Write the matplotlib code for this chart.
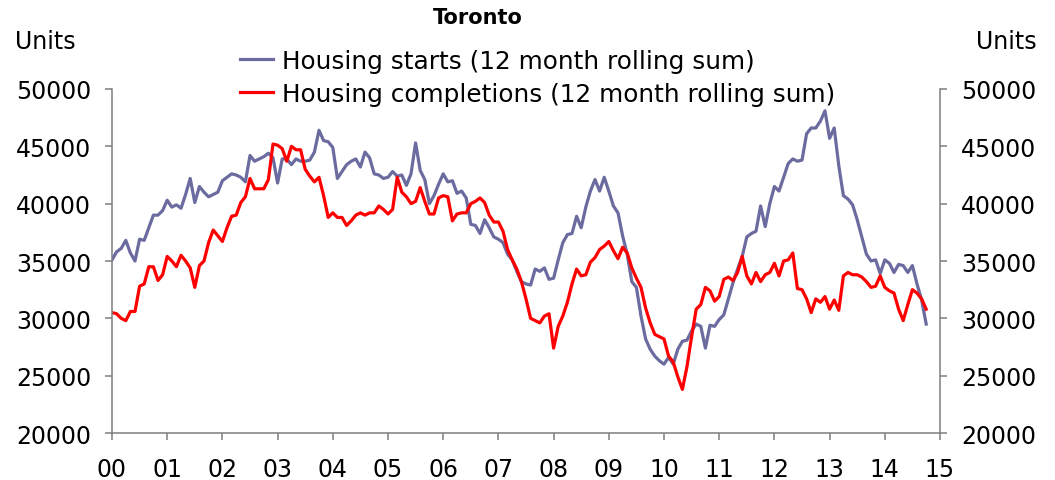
import matplotlib
matplotlib.use("Agg")
import matplotlib.pyplot as plt
import numpy as np

# ---- data (12-month rolling sums, monthly, Jan 2000 - Oct 2014) ----
starts = [
    35100, 35800, 36100, 36800, 35700, 35000, 36900, 36800, 37900, 39000,
    39000, 39400, 40300, 39700, 39900, 39600, 40800, 42200, 40100, 41500,
    41000, 40600, 40800, 41000, 42000, 42300, 42600, 42500, 42300, 41900,
    44200, 43700, 43900, 44100, 44400, 44000, 41800, 43900, 43900, 43400,
    43900, 43700, 43700, 43800, 44500, 46400, 45500, 45400, 44900, 42200,
    42800, 43400, 43700, 43900, 43200, 44500, 44000, 42600, 42500, 42200,
    42300, 42800, 42400, 42500, 41600, 42600, 45300, 42900, 42100, 40000,
    40700, 41700, 42600, 41900, 42000, 40900, 41100, 40500, 38200, 38100,
    37400, 38600, 37900, 37100, 36900, 36600, 35600, 35100, 34100, 33200,
    33000, 32900, 34300, 34100, 34400, 33400, 33500, 35100, 36600, 37300,
    37400, 38900, 37900, 39700, 41100, 42100, 41100, 42300, 41100, 39800,
    39200, 37200, 35600, 33200, 32700, 30200, 28200, 27300, 26700, 26300,
    26000, 26600, 26000, 27300, 28000, 28100, 28900, 29500, 29300, 27400,
    29400, 29300, 29900, 30300, 31700, 33100, 34300, 35400, 37100, 37400,
    37600, 39800, 38000, 40000, 41500, 41100, 42300, 43500, 43900, 43700,
    43800, 46100, 46600, 46600, 47200, 48100, 45700, 46600, 43300, 40700,
    40400, 39900, 38600, 37100, 35600, 35000, 35100, 33900, 35100, 34800,
    34000, 34700, 34600, 34000, 34600, 33000, 31600, 29500,
]
completions = [
    30500, 30400, 30000, 29800, 30600, 30600, 32800, 33000, 34500, 34500,
    33300, 33800, 35400, 35000, 34500, 35500, 35000, 34400, 32700, 34600,
    35000, 36600, 37700, 37200, 36700, 37900, 38900, 39000, 40100, 40600,
    42200, 41300, 41300, 41300, 42100, 45200, 45100, 44800, 43700, 45000,
    44700, 44700, 43000, 42400, 41900, 42300, 40700, 38800, 39200, 38800,
    38800, 38100, 38500, 39000, 39200, 39000, 39200, 39200, 39800, 39500,
    39100, 39500, 42300, 41000, 40600, 40000, 40200, 41400, 40200, 39100,
    39100, 40500, 40700, 40600, 38500, 39100, 39200, 39200, 40000, 40200,
    40500, 40100, 39000, 38400, 38400, 37600, 36000, 35100, 34300, 33200,
    31700, 30000, 29800, 29600, 30200, 30400, 27400, 29300, 30200, 31400,
    33000, 34300, 33700, 33800, 34900, 35300, 36000, 36300, 36700, 35900,
    35200, 36200, 35700, 34400, 33500, 32700, 30900, 29600, 28600, 28400,
    28200, 26700, 26200, 24900, 23800, 25800, 28400, 30800, 31200, 32700,
    32400, 31500, 31900, 33400, 33600, 33300, 34000, 35400, 33700, 33000,
    34000, 33200, 33800, 34000, 34800, 33700, 35000, 35100, 35700, 32600,
    32500, 31700, 30500, 31700, 31400, 31900, 30800, 31600, 30700, 33700,
    34000, 33800, 33800, 33600, 33200, 32700, 32800, 33700, 32700, 32400,
    32200, 30800, 29800, 31200, 32500, 32200, 31700, 30800,
]
year_ticks = list(range(16))
year_labels = ["00", "01", "02", "03", "04", "05", "06", "07", "08", "09",
               "10", "11", "12", "13", "14", "15"]
y_ticks = [20000, 25000, 30000, 35000, 40000, 45000, 50000]
series_names = ["Housing starts (12 month rolling sum)",
                "Housing completions (12 month rolling sum)"]
title = "Toronto"

# ---- styling ----
plt.rcParams["font.family"] = ["DejaVu Sans"]
FS = 17
W, H = 1055, 481
fig = plt.figure(figsize=(W / 100, H / 100), dpi=100)
ax = fig.add_axes([112 / W, 1 - 434 / H, (940 - 112) / W, (434 - 90) / H])

x = np.arange(len(starts)) / 12.0
blue = "#6B6BA0"
red = "#FF0000"
l1, = ax.plot(x, starts, color=blue, lw=2.3, solid_joinstyle="round")
l2, = ax.plot(x, completions, color=red, lw=2.3, solid_joinstyle="round")

ax.set_xlim(0, 15)
ax.set_ylim(20000, 50000)
ax.set_xticks(year_ticks)
ax.set_xticklabels(year_labels)
ax.set_yticks(y_ticks)
ax.set_yticklabels([str(v) for v in y_ticks])

grey = "#7f7f7f"
for s in ["top", "right"]:
    ax.spines[s].set_visible(False)
for s in ["left", "bottom"]:
    ax.spines[s].set_color(grey)
    ax.spines[s].set_linewidth(1.1)
ax.tick_params(axis="both", colors=grey, labelcolor="black", labelsize=FS,
               length=5, width=1.1, direction="out")
ax.tick_params(axis="y", pad=10)
ax.tick_params(axis="x", pad=12)

ax2 = ax.twinx()
ax2.set_ylim(20000, 50000)
ax2.set_yticks(y_ticks)
ax2.set_yticklabels([str(v) for v in y_ticks])
for s in ["top", "left", "bottom"]:
    ax2.spines[s].set_visible(False)
ax2.spines["right"].set_color(grey)
ax2.spines["right"].set_linewidth(1.1)
ax2.tick_params(axis="y", colors=grey, labelcolor="black", labelsize=FS,
                length=5, width=1.1, direction="out", pad=10)

fig.text(478 / W, 1 - 18 / H, title, ha="center", va="center",
         fontsize=15, fontweight="bold")
fig.text(15 / W, 1 - 42 / H, "Units", ha="left", va="center", fontsize=FS)
fig.text(1037 / W, 1 - 42 / H, "Units", ha="right", va="center", fontsize=FS)

LFS = 17.8
leg = fig.legend([l1, l2], series_names, loc="upper left",
                 bbox_to_anchor=(240 / W, 1 - 50 / H), frameon=False,
                 fontsize=LFS, handlelength=1.34, handletextpad=0.37,
                 labelspacing=0.35, borderpad=0, borderaxespad=0)
for line in leg.get_lines():
    line.set_linewidth(2.3)

fig.savefig("out.png", dpi=100)
